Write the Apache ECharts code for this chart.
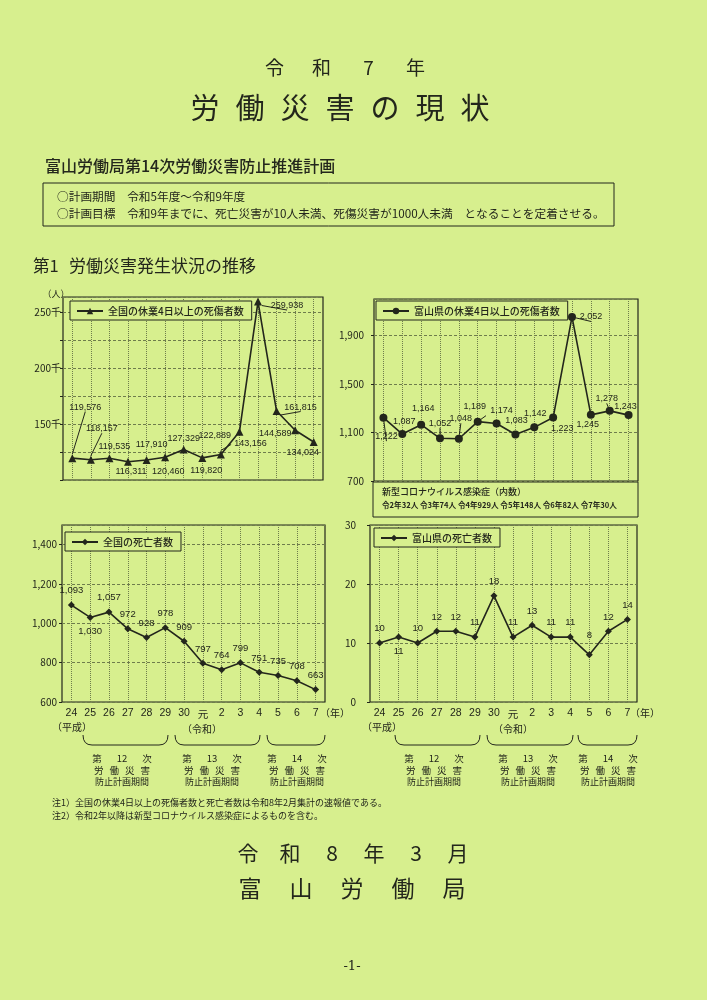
<!DOCTYPE html>
<html>
<head>
<meta charset="utf-8">
<script src="https://cdn.jsdelivr.net/npm/echarts@6/dist/echarts.min.js"></script>
<style>
  html, body { margin: 0; padding: 0; background: #d6ee8c; }
  #page { width: 707px; height: 1000px; }
</style>
</head>
<body>
<div id="page"></div>
<script>
// 年（平成24年～令和7年）
const years = ['24', '25', '26', '27', '28', '29', '30', '元', '2', '3', '4', '5', '6', '7'];

// 全国の休業4日以上の死傷者数
const nationalInjuries = [119576, 118157, 119535, 116311, 117910, 120460, 127329, 119820, 122889, 143156, 259938, 161815, 144589, 134024];
// 富山県の休業4日以上の死傷者数
const toyamaInjuries = [1222, 1087, 1164, 1052, 1048, 1189, 1174, 1083, 1142, 1223, 2052, 1245, 1278, 1243];
// 全国の死亡者数
const nationalDeaths = [1093, 1030, 1057, 972, 928, 978, 909, 797, 764, 799, 751, 735, 708, 663];
// 富山県の死亡者数
const toyamaDeaths = [10, 11, 10, 12, 12, 11, 18, 11, 13, 11, 11, 8, 12, 14];

// 目盛ラベル
const nationalInjuryTicks = [150000, 200000, 250000];
const toyamaInjuryTicks = [700, 1100, 1500, 1900];
const nationalDeathTicks = [600, 800, 1000, 1200, 1400];
const toyamaDeathTicks = [0, 10, 20, 30];

const covidCounts = ['令2年32人', '令3年74人', '令4年929人', '令5年148人', '令6年82人', '令7年30人'];

// ラベル位置（点からのずらし量）
const injuryLabelOffsets = [[13, -51], [11, -31], [5, -12], [3, 10], [5, -15], [3, 14], [0, -11], [4, 13], [-6, -19], [11, 12], [29, 4], [24, -4], [-20, 3], [-11, 10]];
const injuryLeaders = [true, true, false, false, false, false, false, false, true, false, true, true, false, false];
const toyamaLabelOffsets = [[3, 19], [2, -13], [2, -16], [0, -15], [2, -20], [-3, -15], [5, -13], [1, -14], [1, -14], [9, 11], [19, 0], [-3, 10], [-3, -12], [-3, -9]];
const toyamaLeaders = [true, false, false, true, true, true, false, false, false, false, true, false, true, false];

const BG = '#d7ef8e';
const INK = '#23261c';
const GRIDC = '#6f7d4c';
const JP = '"Noto Sans CJK JP", "Noto Sans", sans-serif';
const NUM = '"Liberation Sans", "Noto Sans CJK JP", sans-serif';

const chart = echarts.init(document.getElementById('page'), null, { renderer: 'canvas' });

const fmt = v => v.toLocaleString('en-US');

function xAxisOf(idx, showLabel) {
    return {
        type: 'category', gridIndex: idx, data: years, boundaryGap: true,
        axisLine: { show: false }, axisTick: { show: false },
        axisLabel: {
            show: showLabel, interval: 0, margin: 6, color: INK, fontSize: 10.5, fontFamily: NUM,
            formatter: v => v === '元' ? '{low|元}' : v,
            rich: { low: { fontSize: 10.5, fontFamily: JP, padding: [1, 0, 0, 0], color: INK } }
        },
        splitLine: { show: true, alignWithLabel: true, interval: 0, lineStyle: { color: GRIDC, type: 'dotted', width: 1 } }
    };
}

function yAxisOf(idx, min, max, interval, ticks, label, margin) {
    return {
        type: 'value', gridIndex: idx, min: min, max: max, interval: interval,
        axisLine: { show: false },
        axisTick: { show: true, length: 3, lineStyle: { color: INK } },
        axisLabel: {
            margin: margin, color: INK, fontSize: 10, fontFamily: JP,
            showMaxLabel: ticks.includes(max),
            formatter: v => ticks.includes(v) ? label(v) : ''
        },
        splitLine: { show: true, lineStyle: { color: GRIDC, type: [3, 2], width: 1 } }
    };
}

function lineSeries(name, idx, values, symbol, size, labelOf) {
    return {
        name: name, type: 'line', xAxisIndex: idx, yAxisIndex: idx,
        symbol: symbol, symbolSize: size,
        itemStyle: { color: INK },
        lineStyle: { color: INK, width: 1.6 },
        label: { show: true, color: INK, fontSize: 9, fontFamily: NUM, formatter: p => fmt(p.value) },
        labelLine: { lineStyle: { color: INK, width: 1 } },
        data: values.map((v, i) => Object.assign({ value: v }, labelOf(i))),
        z: 5
    };
}

function legendOf(name, left, top) {
    return {
        data: [name], left: left, top: top, itemWidth: 26, itemHeight: 8,
        padding: [5, 8, 4, 6], borderColor: INK, borderWidth: 1, backgroundColor: BG,
        textStyle: { color: INK, fontSize: 10, fontFamily: JP, fontWeight: 500 },
        selectedMode: false
    };
}

// テキスト用ヘルパー
function text(str, x, y, size, opts) {
    opts = opts || {};
    return {
        type: 'text', x: x, y: y, silent: true,
        style: {
            text: str, fill: INK,
            font: (opts.weight || 'normal') + ' ' + size + 'px ' + (opts.family || JP),
            align: opts.align || 'left', verticalAlign: 'middle'
        }
    };
}
function spaced(chars, cx, y, gap, size, opts) {
    const n = chars.length;
    return chars.map((c, i) => text(c, cx + (i - (n - 1) / 2) * gap, y, size, Object.assign({ align: 'center' }, opts)));
}
const strokeStyle = { stroke: INK, lineWidth: 1, fill: null };
function brace(x1, x2, yTop, yBot) {
    const r = 9;
    return [
        { type: 'bezierCurve', silent: true, shape: { x1: x1, y1: yTop, cpx1: x1, cpy1: yBot, x2: x1 + r, y2: yBot }, style: strokeStyle },
        { type: 'line', silent: true, shape: { x1: x1 + r, y1: yBot, x2: x2 - r, y2: yBot }, style: strokeStyle },
        { type: 'bezierCurve', silent: true, shape: { x1: x2 - r, y1: yBot, cpx1: x2, cpy1: yBot, x2: x2, y2: yTop }, style: strokeStyle }
    ];
}
function planLabel(cx, num) {
    return [].concat(
        spaced(['第', num, '次'], cx, 758, 25, 9.5),
        spaced(['労', '働', '災', '害'], cx, 770, 15.5, 9.5),
        [text('防止計画期間', cx, 782, 9, { align: 'center' })]
    );
}

const graphics = [].concat(
    spaced(['令', '和', '7', '年'], 345, 68, 47, 19),
    spaced(['労', '働', '災', '害', 'の', '現', '状'], 340, 108, 45, 29),
    [text('富山労働局第14次労働災害防止推進計画', 45, 166, 16, { weight: 500 })],
    [{ type: 'rect', silent: true, shape: { x: 43, y: 183, width: 571, height: 43 }, style: strokeStyle }],
    [text('○計画期間　令和5年度～令和9年度', 57, 197, 11.7)],
    [text('○計画目標　令和9年までに、死亡災害が10人未満、死傷災害が1000人未満　となることを定着させる。', 57, 214, 11.7)],
    [text('第1', 33, 266, 16.5), text('労働災害発生状況の推移', 69, 266, 17)],
    [text('（人）', 56, 294, 9, { align: 'center' })],
    // 新型コロナ注記
    [{ type: 'rect', silent: true, shape: { x: 373, y: 482, width: 265, height: 35 }, style: { stroke: INK, lineWidth: 1, fill: BG } }],
    [text('新型コロナウイルス感染症（内数）', 382, 492, 9, { weight: 500 })],
    [text(covidCounts.join(' '), 382, 505, 7.6, { weight: 'bold' })],
    // 年表示
    [text('（年）', 335, 713, 10, { align: 'center' }), text('（年）', 645, 713, 10, { align: 'center' })],
    [text('（平成）', 72, 727, 10, { align: 'center' }), text('（令和）', 202, 729, 10, { align: 'center' })],
    [text('（平成）', 382, 727, 10, { align: 'center' }), text('（令和）', 513, 729, 10, { align: 'center' })],
    brace(83, 168, 735, 745), brace(175, 260, 735, 745), brace(267, 325, 735, 745),
    brace(395, 480, 735, 745), brace(487, 573, 735, 745), brace(578, 637, 735, 745),
    planLabel(122, '12'), planLabel(212, '13'), planLabel(297, '14'),
    planLabel(434, '12'), planLabel(528, '13'), planLabel(608, '14'),
    [text('注1）全国の休業4日以上の死傷者数と死亡者数は令和8年2月集計の速報値である。', 52, 803, 9)],
    [text('注2）令和2年以降は新型コロナウイルス感染症によるものを含む。', 52, 816, 9)],
    spaced(['令', '和', '8', '年', '3', '月'], 353, 853, 42, 21),
    spaced(['富', '山', '労', '働', '局'], 352, 888, 51, 23),
    [text('-1-', 352, 967, 13, { align: 'center', family: '"DejaVu Serif", serif' })]
);

const option = {
    backgroundColor: BG,
    animation: false,
    grid: [
        { left: 63, top: 297, width: 260, height: 183 },
        { left: 374, top: 299, width: 264, height: 182 },
        { left: 62, top: 525, width: 263, height: 177 },
        { left: 370, top: 525, width: 267, height: 177 }
    ].map(g => Object.assign(g, { show: true, borderColor: INK, borderWidth: 1.2, backgroundColor: 'transparent' })),
    xAxis: [xAxisOf(0, false), xAxisOf(1, false), xAxisOf(2, true), xAxisOf(3, true)],
    yAxis: [
        yAxisOf(0, 100000, 264000, 25000, nationalInjuryTicks, v => (v / 1000) + '千', 2),
        yAxisOf(1, 700, 2200, 400, toyamaInjuryTicks, fmt, 10),
        yAxisOf(2, 600, 1500, 200, nationalDeathTicks, fmt, 5),
        yAxisOf(3, 0, 30, 10, toyamaDeathTicks, String, 14)
    ],
    legend: [
        legendOf('全国の休業4日以上の死傷者数', 70, 301),
        legendOf('富山県の休業4日以上の死傷者数', 376, 301),
        legendOf('全国の死亡者数', 65, 532),
        legendOf('富山県の死亡者数', 374, 528)
    ],
    series: [
        lineSeries('全国の休業4日以上の死傷者数', 0, nationalInjuries, 'triangle', 8, i => ({
            label: { position: 'inside', offset: injuryLabelOffsets[i] },
            labelLine: { show: injuryLeaders[i] }
        })),
        lineSeries('富山県の休業4日以上の死傷者数', 1, toyamaInjuries, 'circle', 8, i => ({
            label: { position: 'inside', offset: toyamaLabelOffsets[i] },
            labelLine: { show: toyamaLeaders[i] }
        })),
        lineSeries('全国の死亡者数', 2, nationalDeaths, 'diamond', 7, i => ({
            label: { position: i === 1 ? 'bottom' : 'top', distance: 6, fontSize: 9.5 }
        })),
        lineSeries('富山県の死亡者数', 3, toyamaDeaths, 'diamond', 7, i => ({
            label: { position: i === 1 ? 'bottom' : 'top', distance: i === 11 ? 11 : 6, fontSize: 9.5 }
        }))
    ],
    graphic: graphics
};

chart.setOption(option);
</script>
</body>
</html>
